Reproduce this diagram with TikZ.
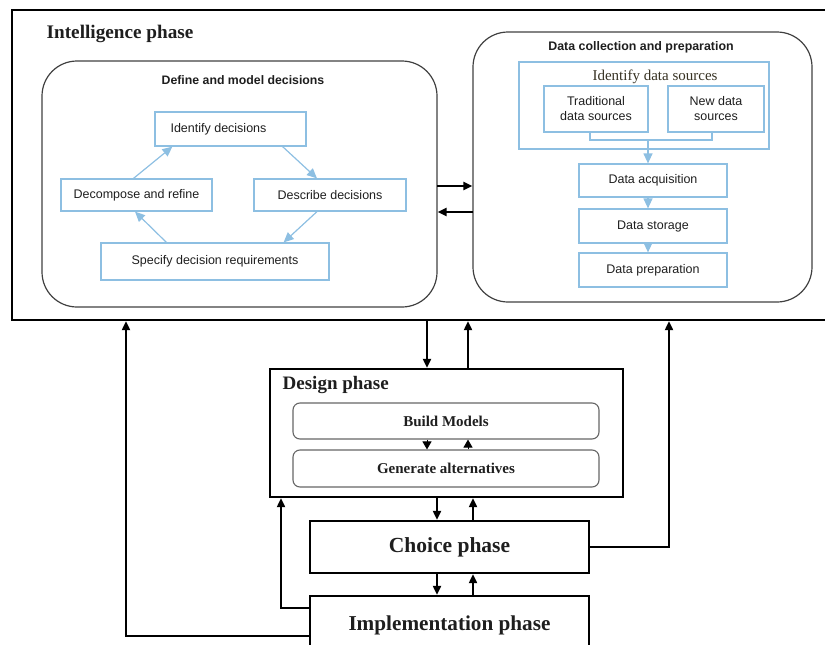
\documentclass[tikz,border=0pt]{standalone}
\usepackage{fontspec}
\setmainfont{Liberation Serif}
\setsansfont{Liberation Sans}
\usetikzlibrary{arrows.meta}
\definecolor{lblue}{RGB}{141,191,226}
\definecolor{txt}{RGB}{30,30,30}
\definecolor{idcol}{RGB}{55,50,35}
\begin{document}
\begin{tikzpicture}[x=1pt,y=-1pt,
  phasebox/.style={draw=black, line width=2.3pt, inner sep=0pt},
  roundbox/.style={draw=black!75, line width=1.2pt, rounded corners=35pt, inner sep=0pt},
  gbox/.style={draw=black!60, line width=1.1pt, rounded corners=7pt, inner sep=0pt, font=\bfseries\fontsize{15}{17}\selectfont, text=txt},
  bluebox/.style={draw=lblue, line width=1.2pt, inner sep=0pt, align=center, text=txt, font=\sffamily\fontsize{12.5}{15}\selectfont},
  blueline/.style={draw=lblue, line width=1.2pt},
  bluearrow/.style={draw=lblue, line width=1.2pt, -{Triangle[length=10pt,width=9pt]}, color=lblue},
  blkarrow/.style={line width=2pt, -{Triangle[length=9pt,width=8pt]}},
  smallarrow/.style={line width=1pt, -{Triangle[length=8pt,width=9pt]}},
]
\useasboundingbox (0,0) rectangle (825,645);
\clip (0,0) rectangle (825,645);

% Intelligence phase
\node[phasebox, minimum width=818pt, minimum height=310pt] (intel) at (421,165) {};
\node[anchor=west, inner sep=0pt, font=\bfseries\fontsize{19.2}{22}\selectfont, text=txt] (intelt) at (46.5,34) {Intelligence phase};

% Define and model decisions
\node[roundbox, minimum width=395pt, minimum height=246pt] (defbox) at (239.5,184) {};
\node[font=\sffamily\bfseries\fontsize{12.3}{14}\selectfont, text=txt] (deft) at (243,80) {Define and model decisions};
\node[bluebox, minimum width=151pt, minimum height=34pt] (idd) at (230.5,129) {Identify decisions\hspace*{24pt}};
\node[bluebox, minimum width=151pt, minimum height=32pt] (dec) at (136.5,195) {Decompose and refine};
\node[bluebox, minimum width=152pt, minimum height=32pt] (des) at (330,195) {Describe decisions};
\node[bluebox, minimum width=228pt, minimum height=37pt] (spec) at (215,261.5) {Specify decision requirements};
\draw[bluearrow] ([xshift=-3pt]dec.north) -- ([xshift=18pt]idd.south west);
\draw[bluearrow] ([xshift=-24pt]idd.south east) -- ([xshift=-13pt]des.north);
\draw[bluearrow] ([xshift=-13pt]des.south) -- ([xshift=-46pt]spec.north east);
\draw[bluearrow] ([xshift=66pt]spec.north west) -- ([xshift=-1.5pt]dec.south);

% Data collection and preparation
\node[roundbox, minimum width=339pt, minimum height=270pt] (datbox) at (642.5,167) {};
\node[font=\sffamily\bfseries\fontsize{12.4}{14}\selectfont, text=txt] (datt) at (641,47) {Data collection and preparation};
\node[blueline, draw=lblue, minimum width=250pt, minimum height=87pt, inner sep=0pt] (ids) at (644,105.5) {};
\node[font=\fontsize{15}{17}\selectfont, text=idcol] (idst) at (655,77) {Identify data sources};
\node[bluebox, minimum width=104pt, minimum height=46pt] (trad) at (596,109) {Traditional\\data sources};
\node[bluebox, minimum width=96pt, minimum height=46pt] (new) at (716,109) {New data\\sources};
\coordinate (bj) at (648,140);
\draw[blueline] ([xshift=-6pt]trad.south) |- (bj) -| ([xshift=-4pt]new.south);
\node[bluebox, minimum width=148pt, minimum height=33pt] (acq) at (653,180.5) {Data acquisition};
\node[bluebox, minimum width=148pt, minimum height=34pt] (sto) at (653,226) {Data storage};
\node[bluebox, minimum width=148pt, minimum height=34pt] (prep) at (653,270) {Data preparation};
\draw[bluearrow] (bj) -- (bj |- acq.north);
\draw[bluearrow] (bj |- acq.south) -- (bj |- sto.north);
\draw[bluearrow] (bj |- sto.south) -- (bj |- prep.north);

% arrows between the two sub-boxes
\coordinate (r1) at (437,186);
\coordinate (r2) at (473,212);
\draw[blkarrow] (r1) -- (r1 -| datbox.west);
\draw[blkarrow] (r2) -- (r2 -| defbox.east);

% Design phase
\node[phasebox, minimum width=353pt, minimum height=128pt] (design) at (446.5,433) {};
\node[anchor=west, inner sep=0pt, font=\bfseries\fontsize{19}{21}\selectfont, text=txt] (designt) at (282.5,385) {Design phase};
\node[gbox, minimum width=306pt, minimum height=36pt] (build) at (446,421) {Build Models};
\node[gbox, minimum width=306pt, minimum height=37pt] (gen) at (446,468.5) {Generate alternatives};

% Choice and implementation
\node[phasebox, minimum width=279pt, minimum height=52pt, font=\bfseries\fontsize{21.5}{24}\selectfont, text=txt] (choice) at (449.5,547) {Choice phase};
\node[phasebox, minimum width=279pt, minimum height=58pt, font=\bfseries\fontsize{21.2}{24}\selectfont, text=txt] (impl) at (449.5,625) {Implementation phase};

% vertical arrows
\coordinate (xa) at (427,0);
\coordinate (xb) at (468,0);
\coordinate (xc) at (437,0);
\coordinate (xd) at (473,0);
\draw[blkarrow] (xa |- intel.south) -- (xa |- design.north);
\draw[blkarrow] (xb |- design.north) -- (xb |- intel.south);
\draw[smallarrow] (xa |- build.south) -- (xa |- gen.north);
\draw[smallarrow] (xb |- gen.north) -- (xb |- build.south);
\draw[blkarrow] (xc |- design.south) -- (xc |- choice.north);
\draw[blkarrow] (xd |- choice.north) -- (xd |- design.south);
\draw[blkarrow] (xc |- choice.south) -- (xc |- impl.north);
\draw[blkarrow] (xd |- impl.north) -- (xd |- choice.south);

% feedback loops
\coordinate (l1) at (281,608);
\coordinate (l2) at (126,636);
\coordinate (r3) at (669,547);
\draw[blkarrow] (l1 -| impl.west) -| (design.south -| l1);
\draw[blkarrow] (l2 -| impl.west) -| (intel.south -| l2);
\draw[blkarrow] (choice.east) -| (intel.south -| r3);
\end{tikzpicture}
\end{document}
